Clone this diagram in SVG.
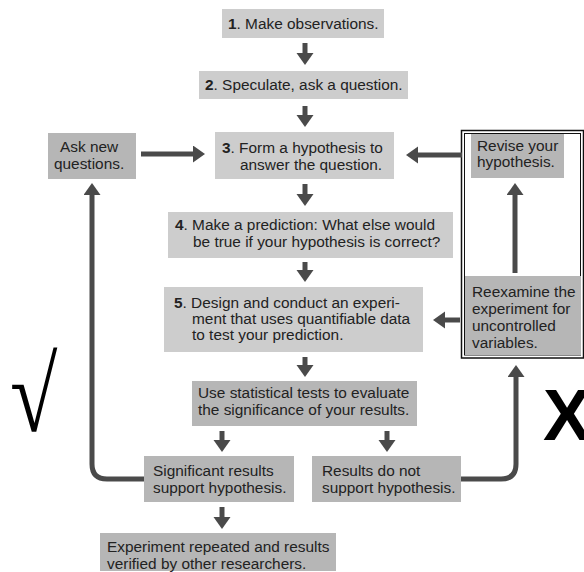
<svg xmlns="http://www.w3.org/2000/svg" width="584" height="572" viewBox="0 0 584 572">
<style>
.bx{fill:#cdcdcd}
.bd{fill:#b6b6b6}
text{font-family:"Liberation Sans",Arial,sans-serif;font-size:15.4px;fill:#222}
.b{font-weight:bold}
.ln{stroke:#4a4a4a;stroke-width:5;fill:none}
</style>
<defs>
<marker id="ah" markerUnits="userSpaceOnUse" markerWidth="14" markerHeight="18" refX="1" refY="8.5" orient="auto">
<path d="M0,0 L12,8.5 L0,17 Z" fill="#4a4a4a"/>
</marker>
</defs>
<rect width="584" height="572" fill="#fff"/>

<g id="frame">
<rect x="461.5" y="130.5" width="122" height="227.5" fill="#fff" stroke="#111" stroke-width="1.5"/>
<rect x="464.5" y="133.5" width="116" height="221.5" fill="none" stroke="#111" stroke-width="1"/>
</g>

<g id="n1"><rect class="bx" x="222" y="9" width="162" height="29"/>
<text x="228" y="29"><tspan class="b">1</tspan>. Make observations.</text></g>

<g id="n2"><rect class="bx" x="199" y="71" width="209" height="28"/>
<text x="205" y="90"><tspan class="b">2</tspan>. Speculate, ask a question.</text></g>

<g id="n3"><rect class="bx" x="215" y="132" width="179" height="47"/>
<text x="222" y="153"><tspan class="b">3</tspan>. Form a hypothesis to</text>
<text x="240" y="170">answer the question.</text></g>

<g id="n4"><rect class="bx" x="168" y="212" width="285" height="46"/>
<text x="175" y="230"><tspan class="b">4</tspan>. Make a prediction: What else would</text>
<text x="193" y="247">be true if your hypothesis is correct?</text></g>

<g id="n5"><rect class="bx" x="164" y="287" width="259" height="65"/>
<text x="174" y="308"><tspan class="b">5</tspan>. Design and conduct an experi-</text>
<text x="192" y="324">ment that uses quantifiable data</text>
<text x="192" y="340">to test your prediction.</text></g>

<g id="stats"><rect class="bd" x="192" y="381" width="225" height="45"/>
<text x="198" y="398">Use statistical tests to evaluate</text>
<text x="198" y="415">the significance of your results.</text></g>

<g id="sig"><rect class="bd" x="144" y="456" width="150" height="46"/>
<text x="153" y="476">Significant results</text>
<text x="153" y="493">support hypothesis.</text></g>

<g id="notsig"><rect class="bd" x="312" y="456" width="149" height="46"/>
<text x="322" y="476">Results do not</text>
<text x="322" y="493">support hypothesis.</text></g>

<g id="repeat"><rect class="bd" x="100" y="533" width="236" height="38"/>
<text x="107" y="552">Experiment repeated and results</text>
<text x="107" y="569">verified by other researchers.</text></g>

<g id="asknew"><rect class="bd" x="48" y="133" width="88" height="46"/>
<text x="60" y="152">Ask new</text>
<text x="54" y="169">questions.</text></g>

<g id="revise"><rect class="bd" x="471" y="134" width="93" height="44"/>
<text x="477" y="151">Revise your</text>
<text x="477" y="167">hypothesis.</text></g>

<g id="reexamine"><rect class="bd" x="465" y="276" width="116" height="79"/>
<text x="472" y="297">Reexamine the</text>
<text x="472" y="314">experiment for</text>
<text x="472" y="331">uncontrolled</text>
<text x="472" y="348">variables.</text></g>

<g id="connectors" class="ln" marker-end="url(#ah)">
<line x1="305" y1="43" x2="305" y2="54"/>
<line x1="305" y1="106" x2="305" y2="116"/>
<line x1="305" y1="184" x2="305" y2="195"/>
<line x1="305" y1="262" x2="305" y2="271"/>
<line x1="305" y1="357" x2="305" y2="366"/>
<line x1="222" y1="431" x2="222" y2="441"/>
<line x1="387" y1="431" x2="387" y2="441"/>
<line x1="222" y1="507" x2="222" y2="518"/>
<line x1="141" y1="154" x2="194" y2="154"/>
<line x1="462" y1="155" x2="417" y2="155"/>
<line x1="460" y1="320" x2="444" y2="320"/>
<line x1="515" y1="273" x2="515" y2="194"/>
<path d="M144,479 H107 Q92,479 92,464 V194"/>
<path d="M461,479 H501 Q516,479 516,464 V376"/>
</g>

<text transform="translate(10,431) scale(0.94,1.15)" x="0" y="0" style="font-family:'Liberation Serif',serif;font-size:92px;fill:#000">√</text>
<text x="543" y="440" style="font-family:'Liberation Sans',Arial,sans-serif;font-size:72px;font-weight:bold;fill:#000">X</text>
</svg>
